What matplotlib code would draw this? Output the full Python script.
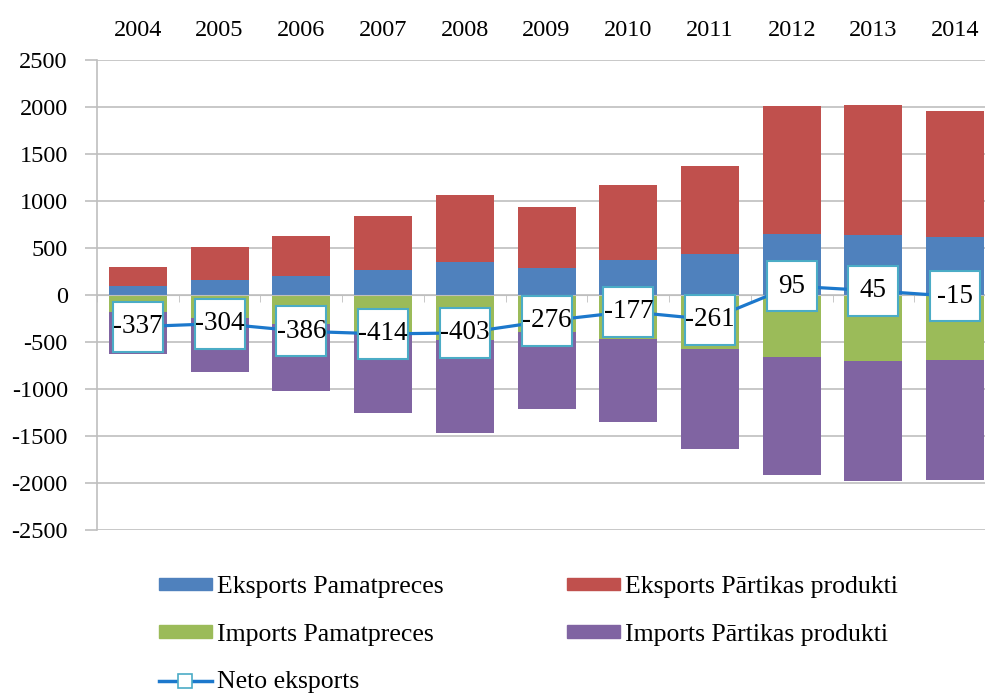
import numpy as np
import matplotlib.pyplot as plt
from matplotlib.lines import Line2D
from matplotlib.patches import Patch

plt.rcParams['font.family'] = ['Liberation Serif', 'DejaVu Serif']
plt.rcParams['axes.unicode_minus'] = False

# Data
years = ['2004', '2005', '2006', '2007', '2008', '2009', '2010', '2011', '2012', '2013', '2014']
eksports_pamat = [93, 160, 199, 269, 352, 289, 370, 437, 648, 634, 616]
eksports_partika = [202, 354, 432, 571, 716, 652, 800, 937, 1360, 1388, 1340]
imports_pamat = [-183, -246, -307, -395, -480, -390, -465, -574, -662, -705, -690]
imports_partika = [-449, -572, -710, -859, -991, -827, -882, -1061, -1251, -1272, -1281]
neto_eksports = [-337, -304, -386, -414, -403, -276, -177, -261, 95, 45, -15]

c_blue = '#4F81BD'
c_red = '#C0504D'
c_green = '#9BBB59'
c_purple = '#8064A2'
c_line = '#1C78CC'
c_box = '#4BACC6'
c_grid = '#BFBFBF'

x = np.arange(len(years))
w = 0.71

fig = plt.figure(figsize=(9.85, 6.97), dpi=100)
ax = fig.add_axes([0.0985, 0.2396, 0.9127, 0.6743])

ax.bar(x, eksports_pamat, w, color=c_blue, zorder=2)
ax.bar(x, eksports_partika, w, bottom=eksports_pamat, color=c_red, zorder=2)
ax.bar(x, imports_pamat, w, color=c_green, zorder=2)
ax.bar(x, imports_partika, w, bottom=imports_pamat, color=c_purple, zorder=2)

# net line with big square markers acting as label boxes
ax.plot(x, neto_eksports, color=c_line, lw=2.3, marker='s', ms=36.5,
        mfc='white', mec=c_box, mew=1.5, zorder=3)
for xi, v in zip(x, neto_eksports):
    ax.text(xi, v, str(v), ha='center', va='center', fontsize=19.5, zorder=4)

ax.set_xlim(-0.5, len(years) - 0.5)
ax.set_ylim(-2500, 2500)
ax.set_yticks(np.arange(-2500, 2501, 500))
ax.yaxis.grid(True, color=c_grid, lw=1.2, zorder=0)
ax.set_axisbelow(True)

ax.set_xticks(x)
ax.set_xticklabels(years)
ax.set_xticks(np.arange(-0.5, len(years)), minor=True)
ax.tick_params(axis='x', which='major', bottom=False, top=False,
               labelbottom=False, labeltop=True, labelsize=17.5, pad=10)
ax.tick_params(axis='x', which='minor', bottom=True, direction='out',
               length=5, color=c_grid)
ax.tick_params(axis='y', labelsize=17.5, length=9, color=c_grid, width=1.2, pad=12)

for s in ['top', 'right']:
    ax.spines[s].set_visible(False)
ax.spines['bottom'].set_position(('data', 0))
ax.spines['bottom'].set_color(c_grid)
ax.spines['left'].set_color(c_grid)
ax.spines['left'].set_linewidth(1.2)

handles = [
    Patch(color=c_blue, label='Eksports Pamatpreces'),
    Patch(color=c_green, label='Imports Pamatpreces'),
    Line2D([], [], color=c_line, lw=2.5, marker='s', ms=9.5, mfc='white',
           mec=c_box, mew=1.2, label='Neto eksports'),
    Patch(color=c_red, label='Eksports Pārtikas produkti'),
    Patch(color=c_purple, label='Imports Pārtikas produkti'),
]
fig.legend(handles=handles, loc='upper left', bbox_to_anchor=(0.1614, 0.1736),
           ncol=2, frameon=False, fontsize=18.5, handlelength=2.06,
           handleheight=0.35, handletextpad=0.2, columnspacing=4.8,
           labelspacing=1.0, borderpad=0, borderaxespad=0)

fig.savefig('out.png', dpi=100)
